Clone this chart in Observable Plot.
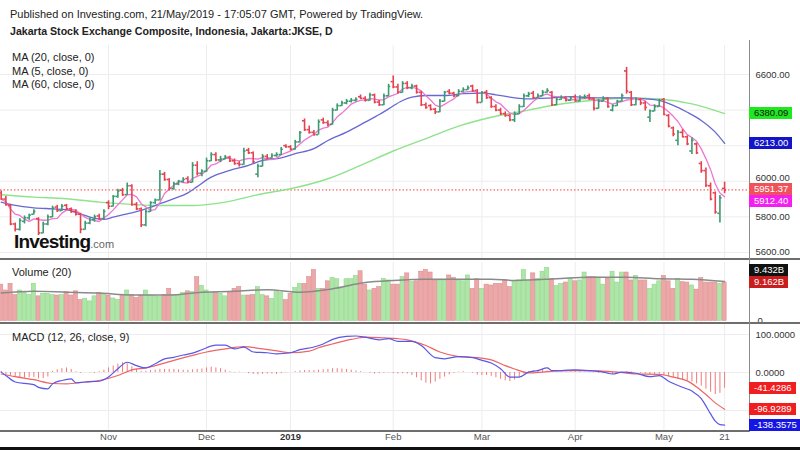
<!DOCTYPE html>
<html><head><meta charset="utf-8">
<script src="https://cdn.jsdelivr.net/npm/d3@7"></script>
<script src="https://cdn.jsdelivr.net/npm/@observablehq/plot@0.6"></script>
<style>
body{margin:0;background:#fff;font-family:"Liberation Sans",Arial,sans-serif;}
#wrap{position:relative;width:800px;height:450px;overflow:hidden;background:#fff;}
.abs{position:absolute;}
.txt{position:absolute;white-space:nowrap;color:#222;}
.tag{position:absolute;left:749px;height:12px;line-height:12px;font-size:9.5px;padding:0 4px 0 5px;white-space:nowrap;}
</style></head><body><div id="wrap"></div>
<script>
// ---------- DATA ----------
const tickIdx = [23, 44, 62, 84, 103, 123, 142, 155];
const tickLabels = ["Nov", "Dec", "2019", "Feb", "Mar", "Apr", "May", "21"];
const priceTicks = [5600, 5800, 6000, 6600];
const priceGrid = [5600, 5800, 6000, 6200, 6400, 6600];

const openP = [5935,5900,5865,5760,5730,5775,5795,5815,5790,5710,5760,5800,5855,5835,5865,5845,5830,5815,5730,5765,5785,5805,5790,
5880,5860,5915,5950,5925,5975,5870,5845,5755,5830,5880,5895,6040,6010,5960,5985,6000,6015,5995,6090,6045,
6056,6115,6150,6120,6125,6135,6115,6100,6095,6175,6160,6040,6085,6140,6130,6145,6150,6200,
6194,6181,6221,6340,6290,6275,6262,6345,6330,6320,6400,6425,6440,6450,6455,6475,6466,6455,6485,6445,6430,6480,
6560,6530,6500,6550,6525,6535,6500,6430,6425,6405,6390,6450,6505,6495,6480,6505,6515,6535,6510,
6443,6500,6470,6420,6400,6380,6370,6345,6380,6420,6480,6495,6470,6480,6500,6500,6430,6460,6470,6455,
6475,6452,6470,6480,6465,6410,6450,6465,6400,6425,6450,6620,6500,6430,6460,6440,6360,6395,6420,
6460,6370,6300,6230,6275,6250,6170,6210,6100,6060,5975,5935,5820,5960];
const highP = [5945,5915,5870,5765,5790,5805,5815,5840,5795,5770,5810,5860,5865,5870,5870,5850,5840,5820,5775,5795,5810,5815,5840,
5890,5920,5955,5960,5990,5980,5880,5850,5840,5885,5900,6060,6050,6015,5995,6005,6020,6025,6105,6110,6065,
6130,6160,6160,6140,6145,6140,6125,6110,6185,6185,6165,6095,6150,6150,6155,6160,6190,6205,
6200,6230,6280,6350,6310,6285,6345,6355,6340,6410,6435,6450,6460,6465,6470,6485,6475,6495,6490,6455,6490,6545,
6592,6545,6560,6560,6545,6540,6505,6440,6430,6410,6460,6505,6515,6500,6515,6525,6535,6540,6515,
6505,6510,6475,6430,6410,6390,6375,6390,6430,6490,6500,6505,6490,6510,6520,6505,6470,6480,6475,6475,
6485,6480,6485,6490,6470,6460,6475,6470,6430,6455,6490,6640,6505,6470,6465,6450,6400,6430,6460,
6465,6375,6305,6285,6290,6255,6245,6215,6110,6075,5990,5940,5920,5995];
const lowP = [5895,5860,5750,5715,5720,5760,5780,5810,5695,5705,5750,5795,5825,5830,5835,5820,5805,5705,5725,5755,5770,5780,5785,
5840,5855,5905,5915,5920,5860,5835,5740,5745,5825,5870,5890,6000,5945,5950,5975,5990,5990,5990,6030,6025,
6050,6110,6110,6105,6120,6105,6090,6080,6090,6150,6100,6020,6080,6120,6125,6135,6145,6185,
6170,6175,6215,6280,6265,6255,6260,6320,6305,6315,6395,6420,6430,6440,6445,6460,6445,6450,6435,6420,6425,6475,
6520,6490,6495,6515,6515,6490,6420,6405,6395,6375,6385,6445,6485,6470,6475,6500,6510,6500,6435,
6440,6460,6410,6390,6370,6360,6335,6330,6375,6415,6470,6460,6465,6475,6495,6420,6425,6455,6445,6450,
6445,6445,6460,6455,6395,6405,6445,6410,6390,6420,6445,6490,6420,6425,6425,6395,6330,6390,6415,
6370,6300,6250,6200,6245,6200,6150,6150,6045,5965,5890,5815,5765,5930];
const closeP = [5900,5870,5760,5730,5780,5795,5810,5830,5710,5760,5800,5850,5835,5860,5845,5830,5815,5730,5765,5785,5800,5790,5831,
5860,5915,5945,5925,5975,5870,5845,5755,5830,5880,5895,6040,6010,5960,5985,6000,6010,5995,6090,6045,6056,
6115,6150,6120,6125,6135,6115,6100,6095,6170,6160,6110,6085,6140,6130,6145,6150,6180,6194,
6181,6221,6274,6290,6275,6262,6335,6330,6320,6400,6425,6440,6450,6455,6460,6466,6455,6485,6445,6430,6480,6533,
6530,6500,6550,6525,6535,6500,6430,6415,6405,6390,6450,6500,6495,6480,6505,6515,6525,6510,6443,
6499,6470,6420,6400,6380,6370,6345,6380,6420,6480,6490,6470,6480,6500,6510,6430,6460,6470,6455,6468,
6452,6470,6475,6465,6410,6450,6465,6420,6425,6450,6481,6507,6430,6460,6440,6415,6395,6420,6455,
6375,6310,6265,6275,6250,6210,6230,6160,6060,5977,5900,5827,5907,5951.37];
// volume in billions
const volume = [8.7,7.3,8.9,6.2,7.3,6.7,6.2,8.9,5.9,6.5,6.5,6.2,6.1,6.2,6.9,6.1,7.1,5.0,5.3,4.7,
5.9,6.7,6.5,6.1,5.4,5.1,6.2,7.3,6.2,5.5,6.1,7.3,6.1,5.9,5.7,6.2,7.7,6.2,6.2,6.7,
7.1,6.9,10.5,8.4,7.3,6.7,6.7,6.5,5.9,6.9,7.7,8.1,6.1,6.1,6.2,8.1,6.2,5.9,5.3,6.9,
6.7,5.0,6.5,7.9,8.9,8.9,10.5,12.2,7.7,7.7,9.5,10.3,10.0,7.9,10.0,10.0,10.8,11.9,8.7,7.3,
7.7,8.1,10.1,9.7,
8.7,8.7,10.5,11.4,9.3,9.5,11.8,12.2,11.6,9.7,9.7,9.7,10.9,10.3,9.7,9.5,10.9,7.7,10.0,7.7,
8.7,8.5,8.9,8.9,9.7,8.1,9.5,9.7,12.2,9.5,11.4,10.1,11.8,12.7,10.1,8.4,8.9,9.2,10.1,9.5,
9.7,11.6,10.5,10.5,10.4,8.7,10.1,11.8,9.2,11.6,11.6,9.7,10.8,9.7,9.7,7.7,8.7,9.5,10.8,9.5,
7.7,10.1,9.3,9.2,8.5,7.5,10.3,9.2,9.2,9.2,8.9,9.162];
const macdHist = [3,-5,-9,-13,-15,-15,-14,-13,-17,-16,-12,
3,7,10,12,8,2,-2,0,-1,-2,2,6,
12,17,22,26,23,15,8,2,
3,5,6,8,8,8,8,7,6,6,7,8,9,
12,14,12,10,6,2,-1,1,0,-3,-5,-6,-5,-4,-4,-5,-3,-1,
0,2,4,5,5,5,6,7,8,10,10,9,8,6,4,2,0,-2,-4,-3,-2,-1,
-3,-4,-3,-4,-8,-14,-22,-28,-30,-25,-18,-12,-6,-2,1,2,0,-2,-7,
-8,-8,-10,-14,-18,-22,-24,-20,-13,-5,2,5,6,8,4,3,2,1,1,1,
2,2,1,1,-1,-2,-3,-4,-5,-3,0,2,1,0,-2,-4,-6,-5,-4,
-6,-11,-14,-17,-19,-22,-25,-30,-36,-44,-52,-58,-55,-41.43];
const ma20Pts = [[0,5883],[3,5864],[7,5851],[11,5845],[14,5840],[17,5817],[20,5792],[22,5786],[24,5798],[27,5817],[30,5836],[32,5854],[34,5874],[37,5902],[40,5935],[42,5970],[45,6023],[49,6061],[53,6089],[56,6117],[60,6132],[63,6155],[67,6183],[70,6229],[74,6276],[78,6332],[81,6375],[83,6407],[86,6454],[88,6473],[91,6482],[95,6482],[99,6492],[103,6495],[106,6486],[110,6469],[113,6463],[118,6469],[122,6476],[127,6469],[134,6469],[138,6463],[141,6454],[144,6426],[147,6388],[150,6342],[153,6276],[155,6213]];
const ma60Pts = [[0,5924],[7,5911],[14,5902],[21,5883],[28,5870],[34,5864],[41,5864],[48,5883],[56,5930],[62,5958],[70,6014],[77,6089],[84,6170],[91,6240],[98,6310],[105,6360],[113,6400],[119,6430],[127,6455],[134,6468],[141,6462],[148,6435],[155,6380.09]];
const volMaPts = [[0,6.7],[7,7.1],[14,6.9],[21,6.7],[28,6.2],[36,6.2],[43,6.9],[50,7.1],[57,7.5],[64,6.9],[71,7.7],[78,9.2],[84,9.7],[91,10.0],[98,10.0],[105,10.0],[110,9.7],[119,10.1],[126,10.5],[134,10.5],[141,10.1],[148,10.0],[155,9.432]];
const macdPts = [[0,1],[1,-8],[3,-25],[6,-30],[7,-32],[8,-39],[10,-43],[11,-30],[13,-21],[15,-17],[16,-27],[18,-25],[21,-23],[23,-12],[25,10],[27,27],[29,18],[31,12],[33,23],[35,36],[37,40],[39,46],[41,51],[43,60],[46,72],[48,72],[50,62],[52,67],[54,54],[57,52],[59,49],[62,52],[64,60],[67,67],[69,75],[71,87],[74,95],[76,96],[78,93],[81,86],[83,89],[85,82],[88,82],[90,71],[93,39],[95,36],[98,42],[101,39],[103,32],[105,25],[107,10],[109,-12],[111,-12],[113,1],[115,5],[117,12],[118,5],[120,5],[123,7],[126,5],[129,1],[131,-4],[133,1],[136,-2],[139,-11],[141,-8],[143,-23],[146,-39],[148,-49],[150,-69],[151,-88],[152,-109],[153,-128],[154,-137],[155,-138.36]];
const signalPts = [[0,-4],[3,-11],[7,-19],[11,-29],[14,-30],[18,-25],[21,-21],[25,-8],[28,7],[31,12],[33,18],[37,32],[41,45],[44,54],[48,62],[52,68],[56,62],[60,55],[62,52],[66,56],[68,65],[71,75],[75,87],[78,93],[82,91],[85,89],[87,86],[91,71],[94,54],[98,42],[102,39],[105,33],[108,18],[111,5],[113,-1],[116,1],[119,4],[123,5],[128,4],[132,1],[136,-4],[141,-5],[144,-12],[147,-22],[149,-38],[151,-58],[153,-80],[155,-96.93]];
const lastVals = {ma60: 6380.09, ma20: 6213.00, close: 5951.37, ma5: 5912.40, volMa: 9.432, vol: 9.162, hist: -41.4286, signal: -96.9289, macd: -138.3575};

// ---------- CHART ----------
const N = closeP.length;
const bars = closeP.map((c, i) => ({i, open: openP[i], high: highP[i], low: lowP[i], close: c, volume: volume[i], hist: macdHist[i], up: c >= openP[i]}));
const XD = [-0.15, 160.55];
const GREEN = "#3c9a70", RED = "#e4434d", GRID = "#ededed";
const FONT = "'Liberation Sans', Arial, sans-serif";
const common = {
  width: 800, marginLeft: 0, marginRight: 50,
  x: {domain: XD, axis: null},
  style: {background: "transparent", overflow: "visible", fontFamily: FONT, fontSize: "9.5px", color: "#333"}
};
const barColor = d => d.up ? GREEN : RED;
const axisText = {frameAnchor: "right", textAnchor: "start", dx: 5, fill: "#333", fontSize: 9.5};

const pricePlot = Plot.plot({
  ...common, height: 259, marginTop: 45, marginBottom: 1,
  y: {domain: [5566, 6763], axis: null},
  marks: [
    Plot.ruleY(priceGrid, {stroke: GRID}),
    Plot.ruleX(tickIdx, {stroke: GRID}),
    Plot.ruleY([closeP[N - 1]], {stroke: "#ff3b3b", strokeWidth: 1, strokeDasharray: "1.5,2"}),
    Plot.line(ma60Pts, {x: d => d[0], y: d => d[1], stroke: "#8fe38b", strokeWidth: 1.4, curve: "monotone-x"}),
    Plot.line(ma20Pts, {x: d => d[0], y: d => d[1], stroke: "#6868d2", strokeWidth: 1.3, curve: "monotone-x"}),
    Plot.line(bars, Plot.windowY({k: 5, anchor: "end", reduce: "mean"}, {x: "i", y: "close", stroke: "#ee76d4", strokeWidth: 1.3})),
    Plot.ruleX(bars, {x: "i", y1: "low", y2: "high", stroke: barColor, strokeWidth: 1.6}),
    Plot.ruleY(bars, {y: "open", x1: d => d.i - 0.45, x2: "i", stroke: barColor, strokeWidth: 1.6}),
    Plot.ruleY(bars, {y: "close", x1: "i", x2: d => d.i + 0.45, stroke: barColor, strokeWidth: 1.6}),
    // right-hand axis labels (6000 nudged up a little, as it sits just above the last-price tag)
    Plot.text(priceTicks.filter(v => v !== 6000), {y: d => d, text: d => d.toFixed(2), ...axisText}),
    Plot.text(priceTicks.filter(v => v === 6000), {y: d => d, text: d => d.toFixed(2), ...axisText, dy: -3})
  ]
});

const volPlot = Plot.plot({
  ...common, height: 64, marginTop: 3, marginBottom: 2.5,
  y: {domain: [0, 14], axis: "right", ticks: [0], tickFormat: () => "0", tickSize: 0, tickPadding: 7, label: null},
  marks: [
    Plot.ruleX(tickIdx, {stroke: GRID}),
    Plot.rect(bars, {x1: d => d.i - 0.44, x2: d => d.i + 0.44, y1: () => 0, y2: "volume",
      fill: d => d.up ? "#aee6a8" : "#eca8a8", stroke: d => d.up ? "#92d68c" : "#df8f8f", strokeWidth: 0.6}),
    Plot.line(volMaPts, {x: d => d[0], y: d => d[1], stroke: "#8a8a8a", strokeWidth: 1.5, curve: "monotone-x"})
  ]
});

const macdPlot = Plot.plot({
  ...common, height: 127, marginTop: 1, marginBottom: 19,
  y: {domain: [-155.3, 126.3], axis: "right", ticks: [0, 100], tickFormat: d => d.toFixed(4), tickSize: 0, tickPadding: 5, label: null},
  marks: [
    Plot.ruleY([-100, 0, 100], {stroke: GRID}),
    Plot.ruleX(tickIdx, {stroke: GRID}),
    Plot.ruleX(bars, {x: "i", y1: () => 0, y2: "hist", stroke: "#f07a7a", strokeWidth: 1}),
    Plot.line(signalPts, {x: d => d[0], y: d => d[1], stroke: "#ef6464", strokeWidth: 1.2, curve: "monotone-x"}),
    Plot.line(macdPts, {x: d => d[0], y: d => d[1], stroke: "#5858e6", strokeWidth: 1.2, curve: "monotone-x"}),
    Plot.text(tickLabels.map((t, k) => ({t, x: tickIdx[k]})).filter(d => d.t !== "2019"),
      {x: "x", text: "t", frameAnchor: "bottom", dy: 8, fill: "#555", fontSize: 9.5}),
    Plot.text(tickLabels.map((t, k) => ({t, x: tickIdx[k]})).filter(d => d.t === "2019"),
      {x: "x", text: "t", frameAnchor: "bottom", dy: 8, fill: "#333", fontSize: 9.5, fontWeight: "bold"})
  ]
});

const wrap = document.getElementById("wrap");
function addPlot(svg, top) {
  const d = document.createElement("div");
  d.className = "abs"; d.style.left = "0px"; d.style.top = top + "px";
  d.appendChild(svg); wrap.appendChild(d);
}
addPlot(pricePlot, 0);
addPlot(volPlot, 259);
addPlot(macdPlot, 323);

function box(left, top, w, h, bg) {
  const d = document.createElement("div");
  d.className = "abs";
  Object.assign(d.style, {left: left + "px", top: top + "px", width: w + "px", height: h + "px", background: bg});
  wrap.appendChild(d);
}
function text(str, left, cy, size, opt = {}) {
  const d = document.createElement("div");
  d.className = "txt"; d.textContent = str;
  Object.assign(d.style, {left: left + "px", top: (cy - size * 0.65) + "px", fontSize: size + "px", lineHeight: (size * 1.3) + "px"}, opt);
  wrap.appendChild(d);
  return d;
}
// panel separators and axis lines
box(0, 258, 800, 2, "#6e6e6e");
box(0, 322, 800, 2, "#6e6e6e");
box(0, 430, 750, 2, "#6e6e6e");
box(749, 40, 1, 392, "#8a8a8a");
box(0, 447, 800, 3, "#111");

// titles
text("Published on Investing.com, 21/May/2019 - 17:05:07 GMT, Powered by TradingView.", 10, 14, 11);
text("Jakarta Stock Exchange Composite, Indonesia, Jakarta:JKSE, D", 10, 32, 10.6, {fontWeight: "bold"});
text("MA (20, close, 0)", 12, 57, 11);
text("MA (5, close, 0)", 12, 71, 11);
text("MA (60, close, 0)", 12, 84, 11);
text("Volume (20)", 12, 272, 11);
text("MACD (12, 26, close, 9)", 12, 337, 11);
const logo = text("Investing", 14, 242, 19, {fontWeight: "bold", color: "#111", letterSpacing: "-0.8px"});
const com = document.createElement("span");
com.textContent = ".com"; Object.assign(com.style, {fontSize: "11px", fontWeight: "normal", color: "#666", letterSpacing: "0"});
logo.appendChild(com);

// value tags on the right axis, positioned with each plot's own y scale
function yFn(plot) {
  const s = plot.scale("y");
  if (s && typeof s.apply === "function") return v => s.apply(v);
  return d3.scaleLinear().domain(s.domain).range(s.range);
}
function tags(plot, top, list) {
  const f = yFn(plot), H = 12, placed = [];
  for (const t of list) {
    let y = f(t.v) + top;
    for (const p of placed) if (Math.abs(y - p) < H) y = y < p ? p - H : p + H;
    placed.push(y);
    const d = document.createElement("div");
    d.className = "tag"; d.textContent = t.label;
    Object.assign(d.style, {top: (y - H / 2) + "px", background: t.bg, color: t.fg});
    wrap.appendChild(d);
  }
}
tags(pricePlot, 0, [
  {v: lastVals.close, label: lastVals.close.toFixed(2), bg: "#f0525a", fg: "#fff"},
  {v: lastVals.ma60, label: lastVals.ma60.toFixed(2), bg: "#1ee81e", fg: "#111"},
  {v: lastVals.ma20, label: lastVals.ma20.toFixed(2), bg: "#1515c8", fg: "#fff"},
  {v: lastVals.ma5, label: lastVals.ma5.toFixed(2), bg: "#f51ef0", fg: "#fff"}
]);
tags(volPlot, 259, [
  {v: lastVals.vol, label: lastVals.vol.toFixed(3) + "B", bg: "#c81e1e", fg: "#fff"},
  {v: lastVals.volMa, label: lastVals.volMa.toFixed(3) + "B", bg: "#111", fg: "#fff"}
]);
tags(macdPlot, 323, [
  {v: lastVals.hist, label: lastVals.hist.toFixed(4), bg: "#f01e1e", fg: "#fff"},
  {v: lastVals.signal, label: lastVals.signal.toFixed(4), bg: "#f01e1e", fg: "#fff"},
  {v: lastVals.macd, label: lastVals.macd.toFixed(4), bg: "#1515e6", fg: "#fff"}
]);
</script></body></html>
